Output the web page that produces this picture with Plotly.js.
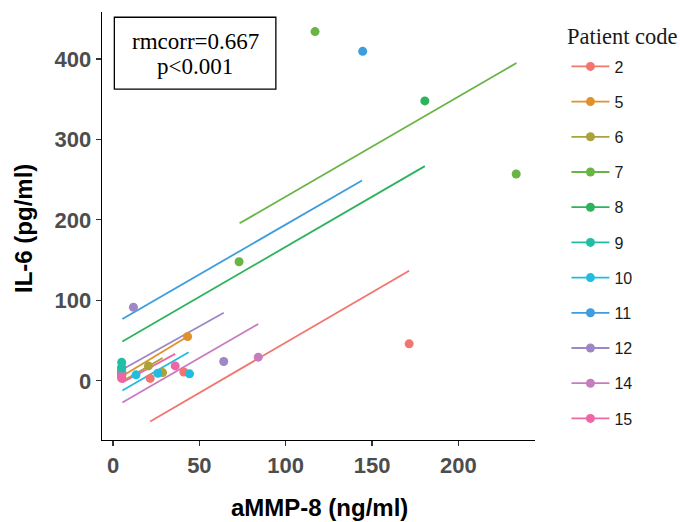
<!DOCTYPE html>
<html><head><meta charset="utf-8">
<script src="https://cdn.plot.ly/plotly-3.0.1.min.js"></script>
<style>body{margin:0;background:#fff}#chart{width:680px;height:522px}</style>
</head><body><div id="chart"></div>
<script>
const patients = ['2','5','6','7','8','9','10','11','12','14','15'];
const colors = ['#F2766E','#E0912A','#AAA23A','#69B445','#2DB35B','#20BEA2','#22BCE0','#3E9DDC','#9F87C5','#C77CC0','#EE66A5'];
// measured points per patient (aMMP-8 ng/ml, IL-6 pg/ml)
const pointX = [[21.5,41,171.5],[5,43.2],[5,20.5,28.7],[73,117,233.5],[5,5,180.6],[5,5],[5,13.3,25.9,44.3],[5,144.6],[5,11.8,64.1],[5,84.1],[5,5,36]];
const pointY = [[3,11,46],[8,55],[17,18.6,10.3],[148,434,257],[6,10,347.8],[23,16],[9,7.5,9.5,8.7],[12,409.4],[7,91.4,24],[14,29.4],[4.6,3,18.6]];
// repeated-measures correlation fit lines (start/end)
const lineX0 = [21.5,5.4,5.4,73.3,5.4,null,5.4,5.4,5.4,5.4,5.4];
const lineX1 = [171.5,43.2,28.7,233.7,180.6,null,43.8,144.2,64.1,84.1,36];
const lineY0 = [-50.5,6,-0.5,195.7,48.8,null,-12,76.9,14,-26.9,-2];
const lineY1 = [136.9,55,28.5,395,266.8,null,35.6,249,84.7,70.7,33.5];
const drawOrder = [0,1,2,3,4,6,7,8,9,5,10];
const xTicks = [0,50,100,150,200];
const yTicks = [0,100,200,300,400];

const traces = [];
patients.forEach((p,i)=>{
  traces.push({x:[null],y:[null],type:'scatter',mode:'lines+markers',name:p,legendgroup:p,
    line:{color:colors[i],width:1.8},marker:{color:colors[i],size:9},hoverinfo:'skip'});
});
patients.forEach((p,i)=>{
  if(lineX0[i]===null) return;
  traces.push({x:[lineX0[i],lineX1[i]],y:[lineY0[i],lineY1[i]],type:'scatter',mode:'lines',
    legendgroup:p,showlegend:false,line:{color:colors[i],width:1.8},hoverinfo:'skip'});
});
drawOrder.forEach(i=>{
  traces.push({x:pointX[i],y:pointY[i],type:'scatter',mode:'markers',legendgroup:patients[i],
    showlegend:false,marker:{color:colors[i],size:9},name:patients[i]});
});

const sans = 'Liberation Sans, Arial, sans-serif';
const serif = 'Liberation Serif, Times New Roman, serif';
const tickFont = {family:sans,size:22,color:'#4D4D4D',weight:'bold'};
const titleFont = {family:sans,size:24,color:'#000',weight:'bold'};
const layout = {
  width:680,height:522,
  margin:{l:102,r:145,t:12,b:82},
  paper_bgcolor:'#fff',plot_bgcolor:'#fff',
  showlegend:true,
  xaxis:{range:[-6.4,244.4],tickvals:xTicks,ticktext:xTicks.map(String),showgrid:false,zeroline:false,
    showline:true,linecolor:'#000',linewidth:1.3,ticks:'outside',ticklen:5,tickcolor:'#333',tickwidth:1.2,
    tickfont:tickFont,automargin:false},
  yaxis:{range:[-73.5,458.3],tickvals:yTicks,ticktext:yTicks.map(String),showgrid:false,zeroline:false,
    showline:true,linecolor:'#000',linewidth:1.3,ticks:'outside',ticklen:5,tickcolor:'#333',tickwidth:1.2,
    tickfont:tickFont,automargin:false},
  legend:{xref:'container',yref:'container',x:0.833,xanchor:'left',y:1-49.5/522,yanchor:'top',
    maxheight:600,traceorder:'grouped',tracegroupgap:11.4,itemwidth:38,
    font:{family:sans,size:16,color:'#1a1a1a'}},
  shapes:[{type:'rect',xref:'x',yref:'y',x0:0.75,x1:94.3,y0:362.4,y1:451.8,line:{color:'#000',width:1.3},fillcolor:'rgba(0,0,0,0)'}],
  annotations:[
    {xref:'x',yref:'y',x:47.5,y:421.5,text:'rmcorr=0.667',showarrow:false,font:{family:serif,size:23,color:'#000'}},
    {xref:'x',yref:'y',x:47.5,y:390.4,text:'p&lt;0.001',showarrow:false,font:{family:serif,size:23,color:'#000'}},
    {xref:'paper',yref:'paper',x:(565-102)/433,y:(440-36)/428,xanchor:'left',yanchor:'middle',text:'Patient code',showarrow:false,font:{family:serif,size:22.5,color:'#1a1a1a'}},
    {xref:'paper',yref:'paper',x:(319-102)/433,y:(440-508)/428,xanchor:'center',yanchor:'middle',text:'aMMP-8 (ng/ml)',showarrow:false,font:titleFont},
    {xref:'paper',yref:'paper',x:(23-102)/433,y:(440-229)/428,xanchor:'center',yanchor:'middle',textangle:-90,text:'IL-6 (pg/ml)',showarrow:false,font:titleFont}
  ]
};
Plotly.newPlot('chart',traces,layout,{displayModeBar:false,staticPlot:true});
</script></body></html>
